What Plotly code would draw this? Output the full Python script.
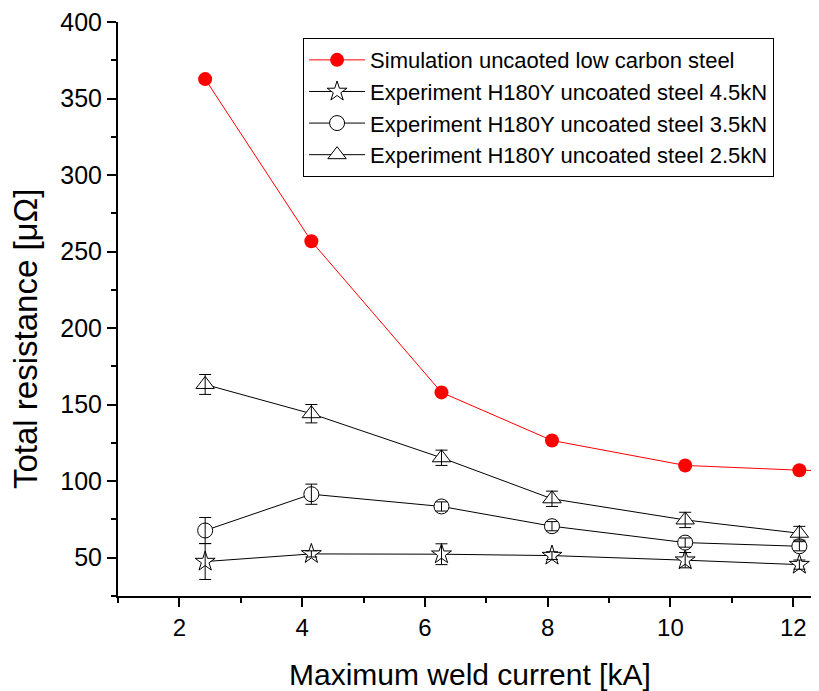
import plotly.graph_objects as go

x_sim = [2.42, 4.15, 6.27, 8.07, 10.24, 12.1, 13.9]
y_sim = [362.7, 256.8, 158.0, 126.6, 110.3, 107.2, 105.5]

x_exp = [2.42, 4.15, 6.27, 8.07, 10.24, 12.1]
y_45 = [47.5, 52.5, 52.3, 51.4, 48.4, 45.5]
e_45 = [11.7, 2.0, 6.8, 2.5, 5.0, 3.0]
y_35 = [67.8, 91.5, 83.5, 70.6, 59.9, 57.5]
e_35 = [8.5, 6.6, 3.0, 3.0, 3.0, 3.0]
y_25 = [163.2, 144.1, 115.3, 88.5, 74.7, 66.0]
e_25 = [6.5, 6.0, 5.0, 5.0, 5.0, 4.5]

names = [
    "Simulation uncaoted low carbon steel",
    "Experiment H180Y uncoated steel 4.5kN",
    "Experiment H180Y uncoated steel 3.5kN",
    "Experiment H180Y uncoated steel 2.5kN",
]
x_title = "Maximum weld current [kA]"
y_title = "Total resistance [μΩ]"

FONT = "Liberation Sans, Arial, sans-serif"

fig = go.Figure()

fig.add_trace(go.Scatter(
    x=x_sim, y=y_sim, name=names[0], mode="lines+markers",
    line=dict(color="red", width=1),
    marker=dict(symbol="circle", size=14, color="red"),
))

exp_sets = [
    (y_45, e_45, names[1], "star", 15),
    (y_35, e_35, names[2], "circle", 15),
    (y_25, e_25, names[3], "triangle-up", 16),
]
for y, e, name, symbol, size in exp_sets:
    fig.add_trace(go.Scatter(
        x=x_exp, y=y, name=name, mode="lines+markers",
        line=dict(color="black", width=1),
        marker=dict(symbol=symbol, size=size, color="white",
                    line=dict(color="black", width=1)),
    ))
# error bars drawn on top of the hollow markers
for y, e, name, symbol, size in exp_sets:
    fig.add_trace(go.Scatter(
        x=x_exp, y=y, mode="markers", showlegend=False, hoverinfo="skip",
        marker=dict(size=1, opacity=0),
        error_y=dict(type="data", array=e, visible=True, color="black",
                     thickness=1, width=6),
    ))

# page body has an 8px margin, so the figure is 811x683 drawn at (8, 8)
fig.update_layout(
    width=811, height=683,
    margin=dict(l=110, r=0, t=14, b=95),
    paper_bgcolor="white", plot_bgcolor="white",
    font=dict(family=FONT, color="black"),
    showlegend=True,
    legend=dict(
        x=0.264, y=0.972, xanchor="left", yanchor="top",
        bgcolor="white", bordercolor="black", borderwidth=1,
        font=dict(size=22, family=FONT),
        itemwidth=56, tracegroupgap=0,
    ),
    xaxis=dict(
        range=[1, 12.42], showgrid=False, zeroline=False, automargin=False,
        showline=True, linecolor="black", linewidth=2,
        ticks="outside", ticklen=9, tickwidth=2, tickcolor="black",
        tickvals=[2, 4, 6, 8, 10, 12], ticktext=["2", "4", "6", "8", "10", "12"],
        tickfont=dict(size=24), ticklabeloverflow="allow",
        minor=dict(tickvals=[1, 3, 5, 7, 9, 11], ticklen=5, tickwidth=2,
                   tickcolor="black", ticks="outside"),
    ),
    yaxis=dict(
        range=[25, 400], showgrid=False, zeroline=False, automargin=False,
        showline=True, linecolor="black", linewidth=2,
        ticks="outside", ticklen=9, tickwidth=2, tickcolor="black",
        tickvals=[50, 100, 150, 200, 250, 300, 350, 400],
        tickfont=dict(size=25), ticklabeloverflow="allow",
        minor=dict(tickvals=[25, 75, 125, 175, 225, 275, 325, 375], ticklen=5,
                   tickwidth=2, tickcolor="black", ticks="outside"),
    ),
    annotations=[
        dict(text=x_title, xref="paper", yref="paper", x=0.502, y=-0.136,
             xanchor="center", yanchor="middle", showarrow=False,
             font=dict(size=30, family=FONT)),
        dict(text=y_title, xref="paper", yref="paper", x=-0.131, y=0.448,
             xanchor="center", yanchor="middle", showarrow=False, textangle=-90,
             font=dict(size=33, family=FONT)),
    ],
)

fig.write_html("out.html")
